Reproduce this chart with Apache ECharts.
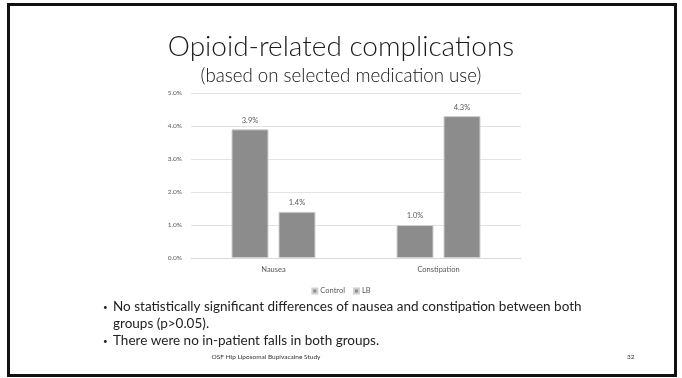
<!DOCTYPE html>
<html>
<head>
<meta charset="utf-8">
<style>
  html, body { margin: 0; padding: 0; background: #ffffff; }
  #chart { width: 682px; height: 378px; }
</style>
<script src="https://cdn.jsdelivr.net/npm/echarts@6/dist/echarts.min.js"></script>
</head>
<body>
<div id="chart"></div>
<script>
// Complication rates (%) per group
const categories = ['Nausea', 'Constipation'];
const controlValues = [3.9, 1.0];
const lbValues = [1.4, 4.3];
const seriesNames = ['Control', 'LB'];
const yTicks = { min: 0, max: 5, interval: 1 };

const bulletLines = [
  { bullet: true, text: 'No statistically significant differences of nausea and constipation between both' },
  { bullet: false, text: 'groups (p>0.05).' },
  { bullet: true, text: 'There were no in-patient falls in both groups.' }
];
const footerText = 'OSF Hip Liposomal Bupivacaine Study';
const pageNumber = '32';

const FONT = 'Lato, "Open Sans", sans-serif';
const BAR_COLOR = '#8c8c8c';
const LABEL_COLOR = '#595959';

const chart = echarts.init(document.getElementById('chart'), null, { renderer: 'canvas' });

const barLabel = {
  show: true,
  position: 'top',
  distance: 5,
  color: LABEL_COLOR,
  fontFamily: FONT,
  fontSize: 7.5,
  formatter: p => p.value.toFixed(1) + '%'
};

// Bullet list below the chart
const bulletGraphics = [];
const lineY = [307, 324, 341];
bulletLines.forEach((line, i) => {
  if (line.bullet) {
    bulletGraphics.push({
      type: 'text', x: 103, y: lineY[i],
      style: { text: '•', font: '8px ' + FONT, fill: '#222', verticalAlign: 'middle' }
    });
  }
  bulletGraphics.push({
    type: 'text', x: 113, y: lineY[i],
    style: { text: line.text, font: '13.5px ' + FONT, fill: '#222', verticalAlign: 'middle' }
  });
});

chart.setOption({
  backgroundColor: '#ffffff',
  animation: false,
  title: [
    {
      text: 'Opioid-related complications',
      left: 'center',
      top: 28,
      textStyle: { fontFamily: FONT, fontWeight: 300, fontSize: 28, color: '#1a1a1a' }
    },
    {
      text: '(based on selected medication use)',
      left: 'center',
      top: 61,
      textStyle: { fontFamily: FONT, fontWeight: 300, fontSize: 18.7, color: '#111' }
    }
  ],
  legend: {
    data: seriesNames,
    left: 'center',
    top: 282,
    itemWidth: 5,
    itemHeight: 5,
    itemGap: 8,
    icon: 'rect',
    textStyle: { fontFamily: FONT, fontSize: 7.5, color: LABEL_COLOR, padding: [0, 0, 0, -2] }
  },
  grid: { left: 191, right: 161, top: 93, bottom: 120 },
  xAxis: {
    type: 'category',
    data: categories,
    axisLine: { lineStyle: { color: '#d9d9d9' } },
    axisTick: { show: false },
    axisLabel: { color: LABEL_COLOR, fontFamily: FONT, fontSize: 7.5, margin: 8 }
  },
  yAxis: {
    type: 'value',
    min: yTicks.min,
    max: yTicks.max,
    interval: yTicks.interval,
    axisLine: { show: false },
    axisTick: { show: false },
    splitLine: { lineStyle: { color: '#e3e3e3' } },
    axisLabel: {
      color: LABEL_COLOR, fontFamily: FONT, fontSize: 6.5, margin: 9,
      formatter: v => v.toFixed(1) + '%'
    }
  },
  series: [
    {
      name: seriesNames[0], type: 'bar', data: controlValues,
      barWidth: 37, barGap: '27%',
      itemStyle: { color: BAR_COLOR, borderColor: '#d0d0d0', borderWidth: 1 },
      label: barLabel
    },
    {
      name: seriesNames[1], type: 'bar', data: lbValues,
      barWidth: 37, barGap: '27%',
      itemStyle: { color: BAR_COLOR, borderColor: '#d0d0d0', borderWidth: 1 },
      label: barLabel
    }
  ],
  graphic: [
    {
      type: 'rect',
      shape: { x: 8.5, y: 4.5, width: 667, height: 371 },
      style: { fill: 'none', stroke: '#111', lineWidth: 3 },
      silent: true
    },
    ...bulletGraphics,
    {
      type: 'text', x: 266, y: 357,
      style: { text: footerText, font: '6.5px ' + FONT, fill: '#333', align: 'center', verticalAlign: 'middle' }
    },
    {
      type: 'text', x: 627, y: 357,
      style: { text: pageNumber, font: '6.5px ' + FONT, fill: '#333', verticalAlign: 'middle' }
    }
  ]
});
</script>
</body>
</html>
